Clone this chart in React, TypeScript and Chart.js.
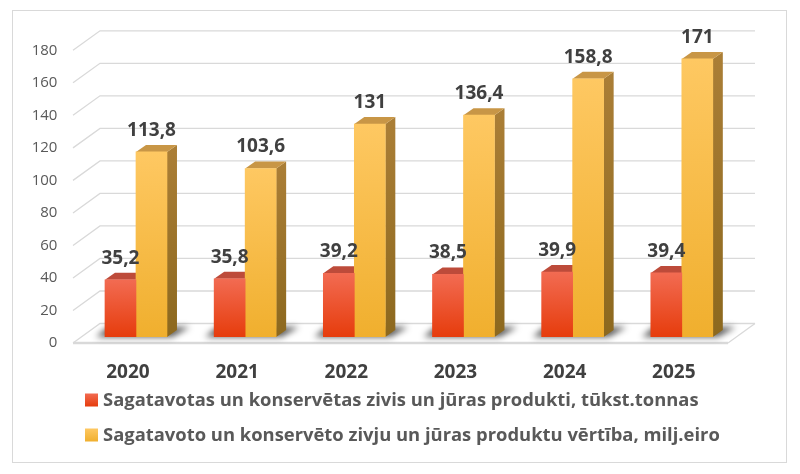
import React, { useEffect, useRef } from 'react';
import { Chart, registerables } from 'chart.js';

Chart.register(...registerables);

const years = ['2020', '2021', '2022', '2023', '2024', '2025'];
const tonnes = [35.2, 35.8, 39.2, 38.5, 39.9, 39.4];
const valueMEur = [113.8, 103.6, 131, 136.4, 158.8, 171];
const seriesNames = [
  'Sagatavotas un konservētas zivis un jūras produkti, tūkst.tonnas',
  'Sagatavoto un konservēto zivju un jūras produktu vērtība, milj.eiro',
];

const FONT = '"Open Sans", "DejaVu Sans", sans-serif';
// bar extrusion
const BDX = 10;
const BDY = -7;

const fmt = (v: number) => String(v).replace('.', ',');

const palette = [
  { top: '#f26b52', bottom: '#e63c0c', cap: '#bd4b3a', side: ['#a8412c', '#8c3018'] },
  { top: '#fec862', bottom: '#f0af2e', cap: '#c89646', side: ['#aa7e36', '#8c681e'] },
];

const threeD = {
  id: 'threeD',
  beforeDatasetsDraw(chart: any) {
    const { ctx, chartArea: a, scales } = chart;
    const ys = scales.y;
    const fl = a.left - 8.4;
    const bl = a.left + 18.6;
    const br = a.right + 18.6;
    const fr = a.right - 8.4;
    ctx.save();
    ctx.strokeStyle = '#d9d9d9';
    ctx.lineWidth = 1.3;
    ys.ticks.forEach((t: any) => {
      const y = ys.getPixelForValue(t.value);
      ctx.beginPath();
      ctx.moveTo(fl, y + 6);
      ctx.lineTo(bl, y - 13.5);
      ctx.lineTo(br, y - 13.5);
      ctx.stroke();
    });
    const y0 = ys.getPixelForValue(0);
    ctx.beginPath();
    ctx.moveTo(br, y0 - 13.5);
    ctx.lineTo(fr, y0 + 6);
    ctx.stroke();
    ctx.lineWidth = 2.5;
    ctx.beginPath();
    ctx.moveTo(fl, y0 + 6);
    ctx.lineTo(fr, y0 + 6);
    ctx.stroke();

    // soft shadows at the base of each bar pair
    const m0 = chart.getDatasetMeta(0).data;
    const m1 = chart.getDatasetMeta(1).data;
    ctx.filter = 'blur(3px)';
    ctx.fillStyle = 'rgba(0,0,0,0.65)';
    m0.forEach((el: any, i: number) => {
      const r = m1[i];
      const l = el.x - el.width / 2;
      const rt = r.x + r.width / 2;
      ctx.beginPath();
      ctx.moveTo(l - 9, y0);
      ctx.lineTo(rt + 5, y0);
      ctx.lineTo(rt + BDX + 13, y0 + BDY - 3);
      ctx.lineTo(l + 3, y0 + BDY - 3);
      ctx.closePath();
      ctx.fill();
    });
    ctx.filter = 'none';

    // tops and sides of the bars
    [0, 1].forEach((d) => {
      const p = palette[d];
      chart.getDatasetMeta(d).data.forEach((el: any) => {
        const { x, y, base, width } = el.getProps(['x', 'y', 'base', 'width'], true);
        const l = x - width / 2;
        const r = x + width / 2;
        const g = ctx.createLinearGradient(0, y, 0, base);
        g.addColorStop(0, p.side[0]);
        g.addColorStop(1, p.side[1]);
        ctx.fillStyle = g;
        ctx.beginPath();
        ctx.moveTo(r, y);
        ctx.lineTo(r + BDX, y + BDY);
        ctx.lineTo(r + BDX, base + BDY);
        ctx.lineTo(r, base);
        ctx.closePath();
        ctx.fill();
        ctx.fillStyle = p.cap;
        ctx.beginPath();
        ctx.moveTo(l, y);
        ctx.lineTo(r, y);
        ctx.lineTo(r + BDX, y + BDY);
        ctx.lineTo(l + BDX, y + BDY);
        ctx.closePath();
        ctx.fill();
      });
    });
    ctx.restore();
  },
  afterDatasetsDraw(chart: any) {
    const { ctx } = chart;
    ctx.save();
    ctx.font = `bold 19px ${FONT}`;
    ctx.fillStyle = '#404040';
    ctx.textAlign = 'center';
    ctx.textBaseline = 'middle';
    [0, 1].forEach((d) => {
      const vals = chart.data.datasets[d].data;
      chart.getDatasetMeta(d).data.forEach((el: any, i: number) => {
        ctx.fillText(fmt(vals[i]), el.x, el.y - 21.5);
      });
    });
    ctx.restore();
  },
  afterDraw(chart: any) {
    const { ctx } = chart;
    ctx.save();
    ctx.font = `bold 18.4px ${FONT}`;
    ctx.textBaseline = 'middle';
    seriesNames.forEach((name, i) => {
      const cy = 389 + i * 35;
      const p = palette[i];
      const g = ctx.createLinearGradient(0, cy - 6.5, 0, cy + 6.5);
      g.addColorStop(0, p.top);
      g.addColorStop(1, p.bottom);
      ctx.fillStyle = g;
      ctx.fillRect(72, cy - 6.5, 13, 13);
      ctx.fillStyle = '#595959';
      ctx.fillText(name, 90, cy + 1);
    });
    ctx.restore();
  },
};

const barFill = (d: number) => (c: any) => {
  const chart = c.chart;
  const ys = chart.scales.y;
  if (!chart.chartArea || !ys) return palette[d].bottom;
  const v = c.raw as number;
  const top = ys.getPixelForValue(v);
  const base = ys.getPixelForValue(0);
  const g = chart.ctx.createLinearGradient(0, top, 0, base);
  g.addColorStop(0, palette[d].top);
  g.addColorStop(1, palette[d].bottom);
  return g;
};

export default function App() {
  const canvasRef = useRef<HTMLCanvasElement>(null);
  const chartRef = useRef<Chart | null>(null);

  useEffect(() => {
    if (!canvasRef.current) return;
    const ctx = canvasRef.current.getContext('2d');
    if (!ctx) return;
    if (chartRef.current) chartRef.current.destroy();

    chartRef.current = new Chart(ctx, {
      type: 'bar',
      data: {
        labels: years,
        datasets: [
          { label: seriesNames[0], data: tonnes, backgroundColor: barFill(0), borderWidth: 0, barThickness: 31 },
          { label: seriesNames[1], data: valueMEur, backgroundColor: barFill(1), borderWidth: 0, barThickness: 31 },
        ],
      },
      options: {
        responsive: true,
        maintainAspectRatio: false,
        animation: false,
        layout: { padding: { top: 33.3, right: 49.6, bottom: 75, left: 0 } },
        plugins: {
          legend: { display: false },
          tooltip: { enabled: false },
        },
        scales: {
          x: {
            grid: { display: false, drawTicks: false },
            border: { display: false },
            ticks: {
              font: { family: FONT, size: 19, weight: 'bold' },
              color: '#404040',
              padding: 24,
              labelOffset: -8,
            },
            afterFit: (s: any) => {
              s.height = 50;
            },
          },
          y: {
            min: 0,
            max: 180,
            grid: { display: false, drawTicks: false },
            border: { display: false },
            ticks: {
              stepSize: 20,
              font: { family: FONT, size: 15 },
              color: '#595959',
              padding: 24,
              labelOffset: 6,
            },
            afterFit: (s: any) => {
              s.width = 68.4;
            },
          },
        },
      },
      plugins: [threeD],
    });

    return () => chartRef.current?.destroy();
  }, []);

  return (
    <div
      style={{
        position: 'absolute',
        left: 12,
        top: 10,
        width: 775,
        height: 453,
        border: '1px solid #d9d9d9',
        boxSizing: 'border-box',
        background: '#fff',
      }}
    >
      <canvas ref={canvasRef}></canvas>
    </div>
  );
}
